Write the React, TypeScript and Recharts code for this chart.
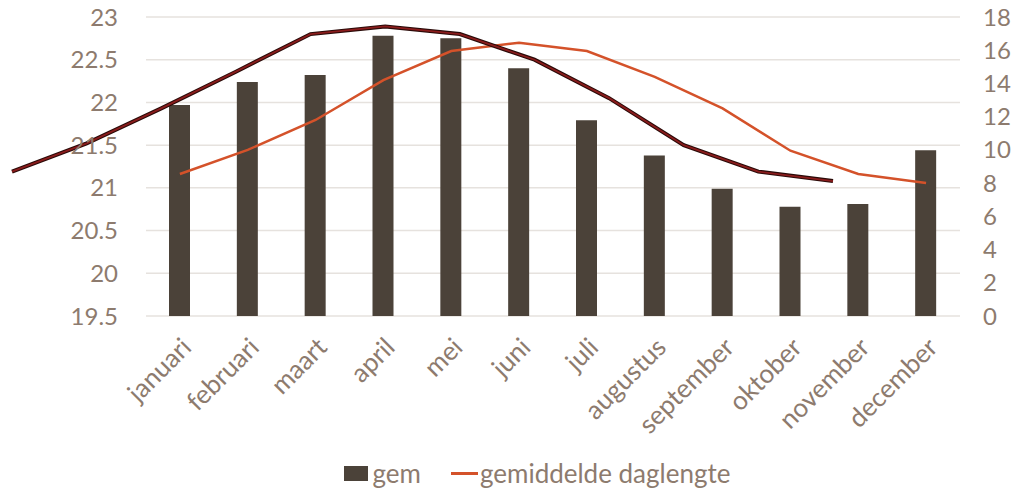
import { ComposedChart, Bar, Line, XAxis, YAxis, CartesianGrid, Legend } from "recharts";

const months = [
  "januari", "februari", "maart", "april", "mei", "juni",
  "juli", "augustus", "september", "oktober", "november", "december",
];
const gem = [21.97, 22.24, 22.32, 22.78, 22.75, 22.4, 21.79, 21.38, 20.99, 20.78, 20.81, 21.44];
const daglengte = [8.55, 10.0, 11.8, 14.2, 15.95, 16.45, 15.95, 14.4, 12.5, 9.95, 8.55, 8.0];
// extra dark line drawn over the chart (no legend entry), 12 points on its own spacing
const trend = [21.19, 21.52, 21.93, 22.36, 22.8, 22.89, 22.8, 22.5, 22.05, 21.5, 21.19, 21.08];

const leftTicks = [19.5, 20, 20.5, 21, 21.5, 22, 22.5, 23];
const rightTicks = [0, 2, 4, 6, 8, 10, 12, 14, 16, 18];

const data = months.map((m, i) => ({ month: m, gem: gem[i], daglengte: daglengte[i] }));
const trendData = trend.map((v, i) => ({ i, v }));

const textColor = "#8d7b6e";
const barColor = "#4b4239";
const orange = "#d4522a";

const MonthTick = ({ x, y, payload }: any) => (
  <g transform={`translate(${x},${y})`}>
    <text
      x={13}
      y={33}
      textAnchor="end"
      transform="rotate(-45 13 33)"
      fill={textColor}
      fontSize={26}
    >
      {payload.value}
    </text>
  </g>
);

const LegendContent = ({ payload }: any) => (
  <div
    style={{
      display: "flex",
      justifyContent: "center",
      alignItems: "center",
      gap: 30,
      height: 36,
      marginLeft: 60,
      fontSize: 26,
      color: textColor,
    }}
  >
    {(payload || [])
      .filter((p: any) => p.type !== "none")
      .map((p: any) => (
        <div key={p.value} style={{ display: "flex", alignItems: "center" }}>
          {p.type === "line" ? (
            <span style={{ width: 27, height: 3, background: p.color, display: "inline-block", marginRight: 2 }} />
          ) : (
            <span style={{ width: 24, height: 15, background: p.color, display: "inline-block", marginRight: 5 }} />
          )}
          <span>{p.value}</span>
        </div>
      ))}
  </div>
);

export default function App() {
  return (
    <div style={{ fontFamily: "Lato, sans-serif" }}>
      <style>{"body{margin:0}"}</style>
      <ComposedChart width={1014} height={493} data={data} margin={{ top: 17, right: 0, bottom: 2, left: 0 }}>
        <CartesianGrid yAxisId="left" vertical={false} stroke="#e6e2de" strokeWidth={1.5} />
        <XAxis
          dataKey="month"
          interval={0}
          height={139}
          tickLine={false}
          axisLine={false}
          tickSize={0}
          tickMargin={0}
          tick={<MonthTick />}
        />
        <XAxis
          xAxisId="trend"
          type="number"
          dataKey="i"
          domain={[0, 11]}
          padding={{ left: -134, right: 127 }}
          hide
        />
        <YAxis
          yAxisId="left"
          width={146}
          domain={[19.5, 23]}
          ticks={leftTicks}
          tickLine={false}
          axisLine={false}
          tickSize={0}
          tickMargin={28}
          tick={{ fill: textColor, fontSize: 24 }}
        />
        <YAxis
          yAxisId="right"
          orientation="right"
          width={54}
          domain={[0, 18]}
          ticks={rightTicks}
          tickLine={false}
          axisLine={false}
          tickSize={0}
          tickMargin={23}
          tick={{ fill: textColor, fontSize: 24 }}
        />
        <Bar yAxisId="left" dataKey="gem" name="gem" fill={barColor} barSize={21} isAnimationActive={false} />
        <Line
          yAxisId="right"
          dataKey="daglengte"
          name="gemiddelde daglengte"
          stroke={orange}
          strokeWidth={2.5}
          dot={false}
          isAnimationActive={false}
        />
        <Line
          data={trendData}
          xAxisId="trend"
          yAxisId="left"
          dataKey="v"
          stroke="#2a0a08"
          strokeWidth={4}
          dot={false}
          legendType="none"
          isAnimationActive={false}
        />
        <Line
          data={trendData}
          xAxisId="trend"
          yAxisId="left"
          dataKey="v"
          stroke="#8a1c1c"
          strokeWidth={1.8}
          dot={false}
          legendType="none"
          isAnimationActive={false}
        />
        <Legend verticalAlign="bottom" height={36} content={<LegendContent />} />
      </ComposedChart>
    </div>
  );
}
